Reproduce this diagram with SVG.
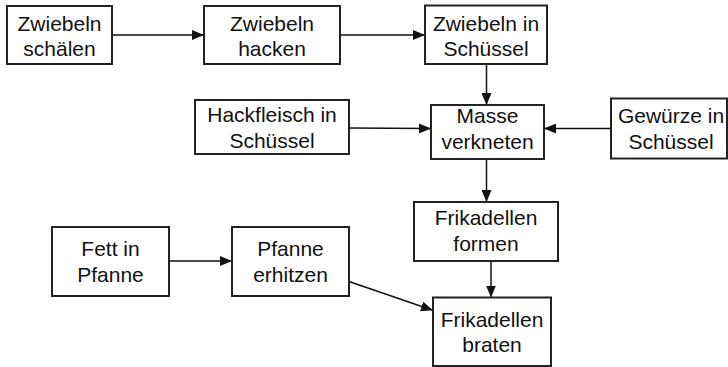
<svg xmlns="http://www.w3.org/2000/svg" width="728" height="367" viewBox="0 0 728 367">
<style>
.box{fill:#fff;stroke:#222;stroke-width:2}
.t{font-family:"Liberation Sans",Arial,sans-serif;font-size:21px;fill:#111;text-anchor:middle}
.c{stroke:#111;stroke-width:1.5;fill:none;marker-end:url(#ah)}
</style>
<defs>
<marker id="ah" markerUnits="userSpaceOnUse" markerWidth="12" markerHeight="10" refX="11" refY="5" orient="auto">
<path d="M0,0 L12,5 L0,10 Z" fill="#111"/>
</marker>
</defs>
<rect width="728" height="367" fill="#fff"/>
<g id="connectors">
<line class="c" x1="112" y1="35" x2="203" y2="35"/>
<line class="c" x1="340" y1="35" x2="424" y2="35"/>
<line class="c" x1="486.5" y1="64" x2="486.5" y2="104"/>
<line class="c" x1="349" y1="128" x2="430" y2="128.5"/>
<line class="c" x1="611" y1="128.5" x2="545" y2="128.5"/>
<line class="c" x1="486.5" y1="159" x2="486.5" y2="201"/>
<line class="c" x1="491" y1="261" x2="491" y2="296.5"/>
<line class="c" x1="169" y1="261" x2="231" y2="261"/>
<line class="c" x1="349" y1="281.5" x2="432" y2="310"/>
</g>
<g id="n1"><rect class="box" x="7" y="6" width="105" height="58"/><text class="t" x="59.5" y="30.5">Zwiebeln</text><text class="t" x="59.5" y="56">schälen</text></g>
<g id="n2"><rect class="box" x="204" y="6" width="136" height="58"/><text class="t" x="272" y="30.5">Zwiebeln</text><text class="t" x="272" y="56">hacken</text></g>
<g id="n3"><rect class="box" x="425" y="5.5" width="122" height="58.5"/><text class="t" x="486" y="30.5">Zwiebeln in</text><text class="t" x="486" y="56">Schüssel</text></g>
<g id="n4"><rect class="box" x="195" y="100" width="154" height="54"/><text class="t" x="272" y="121.5">Hackfleisch in</text><text class="t" x="272" y="147.5">Schüssel</text></g>
<g id="n5"><rect class="box" x="431" y="105" width="113" height="54"/><text class="t" x="487.5" y="123">Masse</text><text class="t" x="487.5" y="149">verkneten</text></g>
<g id="n6"><rect class="box" x="611" y="98.5" width="116" height="60"/><text class="t" x="671" y="123">Gewürze in</text><text class="t" x="671" y="149">Schüssel</text></g>
<g id="n7"><rect class="box" x="414" y="202" width="144" height="59"/><text class="t" x="486" y="225">Frikadellen</text><text class="t" x="486" y="251">formen</text></g>
<g id="n8"><rect class="box" x="52" y="227" width="117" height="69"/><text class="t" x="110.5" y="256">Fett in</text><text class="t" x="110.5" y="281.5">Pfanne</text></g>
<g id="n9"><rect class="box" x="232" y="227" width="117" height="69"/><text class="t" x="290.5" y="256">Pfanne</text><text class="t" x="290.5" y="281.5">erhitzen</text></g>
<g id="n10"><rect class="box" x="433" y="297.5" width="118" height="68.5"/><text class="t" x="492" y="326.5">Frikadellen</text><text class="t" x="492" y="352">braten</text></g>
</svg>
